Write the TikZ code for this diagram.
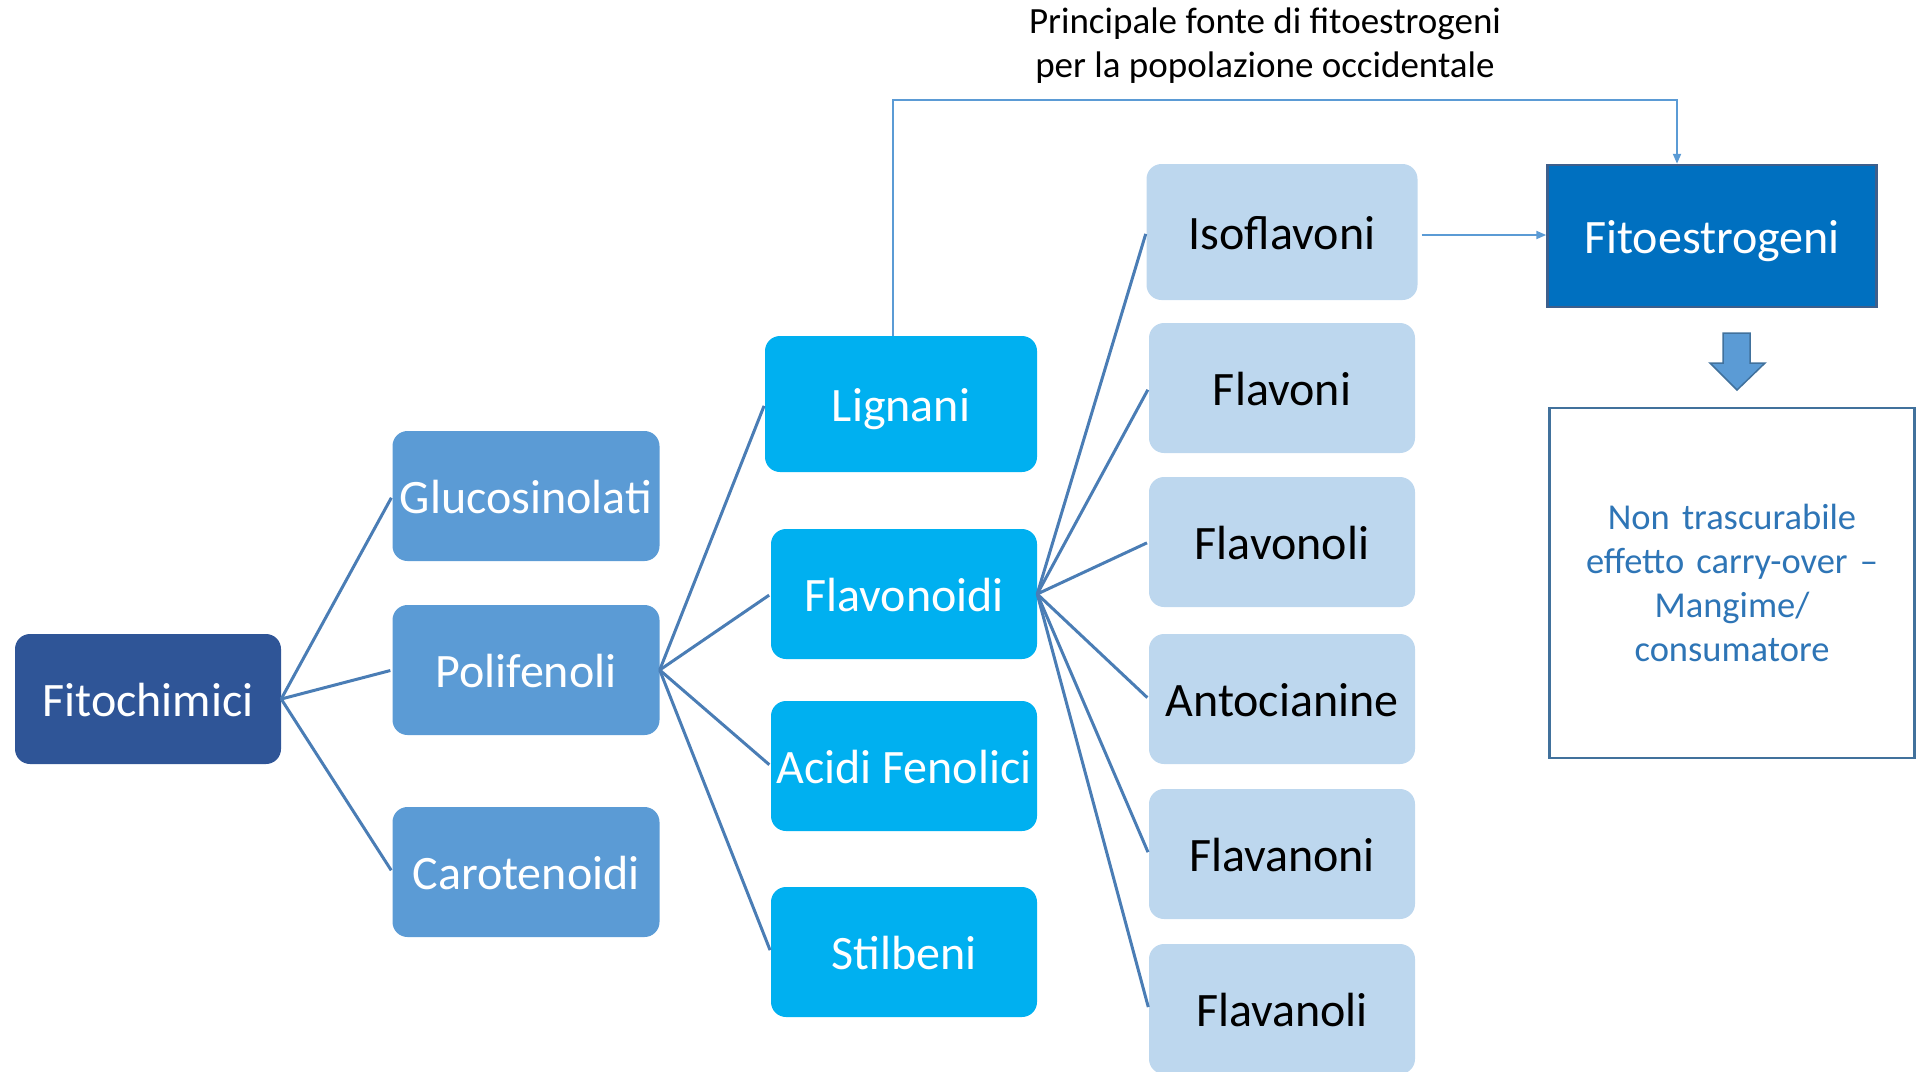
\documentclass[tikz,border=0pt]{standalone}
\usepackage{fontspec}
\setmainfont{Carlito}
\usetikzlibrary{arrows.meta}
\definecolor{cRoot}{HTML}{2F5597}
\definecolor{cTwo}{HTML}{5B9BD5}
\definecolor{cThree}{HTML}{00B0F0}
\definecolor{cFour}{HTML}{BDD7EE}
\definecolor{cFito}{HTML}{0070C0}
\definecolor{cFitoBorder}{HTML}{3D5F8C}
\definecolor{cLine}{HTML}{4A7DB5}
\definecolor{cLight}{HTML}{5B9BD5}
\definecolor{cFrame}{HTML}{41719C}
\definecolor{cNote}{HTML}{2E75B6}
\begin{document}
\begin{tikzpicture}[x=1pt,y=-1pt,
  box/.style={rounded corners=15pt, minimum width=266pt, minimum height=130pt,
    inner sep=0pt, text height=34pt, text depth=0pt, font=\fontsize{48}{58}\selectfont},
  rootbox/.style={box, fill=cRoot, text=white},
  twobox/.style={box, fill=cTwo, text=white},
  threebox/.style={box, fill=cThree, text=white},
  fourbox/.style={box, fill=cFour, text=black},
  link/.style={draw=cLine, line width=3pt, shorten >=2pt},
  toplink/.style={draw=cLight, line width=2pt, -{Triangle[length=10pt,width=8pt]}},
]
\useasboundingbox (0,0) rectangle (1929,1071);
\clip (0,0) rectangle (1929,1071);

% nodes
\node[rootbox] (fito) at (148,699) {Fitochimici};

\node[twobox, minimum width=267pt] (gluc) at (526,496) {Glucosinolati};
\node[twobox, minimum width=267pt] (poli) at (526,670) {Polifenoli};
\node[twobox, minimum width=267pt] (caro) at (526,872) {Carotenoidi};

\node[threebox, minimum width=272pt, minimum height=136pt] (lign) at (901,404) {Lignani};
\node[threebox] (flavd) at (904,594) {Flavonoidi};
\node[threebox] (acid) at (904,766) {Acidi Fenolici};
\node[threebox] (stil) at (904,952) {Stilbeni};

\node[fourbox, minimum width=271pt, minimum height=136pt] (iso) at (1282,232) {Isoflavoni};
\node[fourbox] (flavoni) at (1282,388) {Flavoni};
\node[fourbox] (flavonoli) at (1282,542) {Flavonoli};
\node[fourbox] (anto) at (1282,699) {Antocianine};
\node[fourbox] (flavanoni) at (1282,854) {Flavanoni};
\node[fourbox] (flavanoli) at (1282,1009) {Flavanoli};

\node[fill=cFito, draw=cFitoBorder, line width=2.5pt, minimum width=329pt, minimum height=142pt,
  inner sep=0pt, text height=34pt, text depth=0pt, text=white,
  font=\fontsize{48}{58}\selectfont] (estro) at (1712,236) {Fitoestrogeni};

\node[draw=cFrame, line width=2.5pt, fill=white, minimum width=365pt, minimum height=350pt,
  inner sep=0pt, text width=340pt, align=center, text=cNote,
  font=\fontsize{36.5}{44}\selectfont] (note) at (1732,583)
  {Non trascurabile\\effetto carry-over --\\Mangime/\\consumatore};

\node[align=center, font=\fontsize{37}{44}\selectfont, text=black] (label) at (1265,46)
  {Principale fonte di fitoestrogeni\\per la popolazione occidentale};

% connectors
\foreach \c in {gluc,poli,caro}
  \draw[link] (fito.east) -- (\c.west);
\foreach \c in {lign,flavd,acid,stil}
  \draw[link] (poli.east) -- (\c.west);
\foreach \c in {iso,flavoni,flavonoli,anto,flavanoni,flavanoli}
  \draw[link] (flavd.east) -- (\c.west);

\coordinate (tl) at (893,100);
\coordinate (tr) at (1677,100);
\draw[toplink] ([xshift=-8pt]lign.north) -- (tl) -- (tr) -- (tr |- estro.north);
\coordinate (isoR) at ([xshift=4pt,yshift=-3pt]iso.east);
\draw[toplink] (isoR) -- (isoR -| estro.west);

% block arrow
\draw[fill=cTwo, draw=cFrame, line width=1.5pt, line join=miter]
  (1723,333) -- (1750,333) -- (1750,363) -- (1765,363) -- (1737,390)
  -- (1710,363) -- (1723,363) -- cycle;
\end{tikzpicture}
\end{document}
